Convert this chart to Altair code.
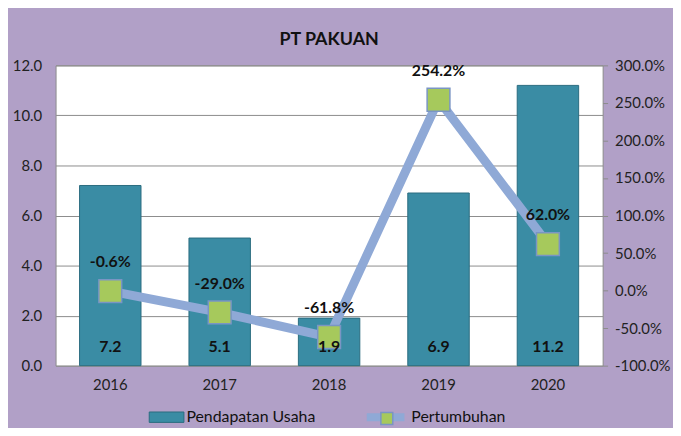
import altair as alt
import pandas as pd

years = ["2016", "2017", "2018", "2019", "2020"]
pendapatan = [7.2, 5.1, 1.9, 6.9, 11.2]
pertumbuhan = [-0.6, -29.0, -61.8, 254.2, 62.0]
left_ticks = [0, 2, 4, 6, 8, 10, 12]
right_ticks = [-100, -50, 0, 50, 100, 150, 200, 250, 300]

df = pd.DataFrame({
    "year": years,
    "pend": pendapatan,
    "growth": pertumbuhan,
    "k1": ["Pendapatan Usaha"] * len(years),
    "k2": ["Pertumbuhan"] * len(years),
    "k3": ["Pertumbuhan"] * len(years),
})

FONT = "Lato"
TEAL = "#3A8CA4"
TEAL_DARK = "#2A6C80"
LINE = "#8FA9D6"
GREEN = "#A6C95C"
BOX = "#7A95C4"
LEG_C = 355  # legend centre line, relative to the plot top
LINE_X = 310

x = alt.X("year:N", title=None, sort=years,
          scale=alt.Scale(paddingInner=0.43, paddingOuter=0.215),
          axis=alt.Axis(labelAngle=0, labelFontSize=15, labelPadding=12,
                        ticks=False, domain=False, labelColor="#222"))

base = alt.Chart(df)

yl = alt.Y("pend:Q", title=None,
           scale=alt.Scale(domain=[0, 12], nice=False),
           axis=alt.Axis(values=left_ticks, format=".1f", labelFontSize=15,
                         labelPadding=14, ticks=False, domain=False,
                         grid=True, gridColor="#8C8C8C", gridWidth=1,
                         labelColor="#222"))

bars = base.mark_bar(size=62, stroke=TEAL_DARK, strokeWidth=1).encode(
    x=x, y=yl,
    color=alt.Color("k1:N", title=None,
                    scale=alt.Scale(range=[TEAL]),
                    legend=alt.Legend(orient="none", legendX=94, legendY=LEG_C - 18,
                                      symbolType="M-1,-0.3H1V0.3H-1Z",
                                      symbolSize=1225, symbolStrokeColor=TEAL_DARK,
                                      symbolStrokeWidth=1, symbolOpacity=1,
                                      labelFontSize=16, labelOffset=2,
                                      labelColor="#111", padding=0)),
)

yr_scale = alt.Scale(domain=[-100, 300], nice=False)
yr_axis = alt.Axis(orient="right", values=right_ticks,
                   labelExpr="replace(format(datum.value, '.1f'), '\u2212', '-') + '%'",
                   labelFontSize=15, labelPadding=7, ticks=True,
                   tickSize=5, tickColor="#8C8C8C", domain=False,
                   grid=False, labelColor="#222", labelOverlap=False)
yr = alt.Y("growth:Q", title=None, scale=yr_scale, axis=yr_axis)

line = base.mark_line(strokeWidth=9).encode(
    x=x, y=yr,
    stroke=alt.Stroke("k2:N", title=None, scale=alt.Scale(range=[LINE]),
                      legend=alt.Legend(orient="none", legendX=LINE_X, legendY=LEG_C - 23,
                                        symbolType="stroke", symbolSize=1444,
                                        symbolStrokeWidth=8, labelFontSize=16,
                                        labelOffset=3, labelColor="#111",
                                        padding=0)),
)

points = base.mark_square(size=529, stroke=BOX, strokeWidth=1.5, opacity=1).encode(
    x=x, y=yr,
    fill=alt.Fill("k3:N", title=None, scale=alt.Scale(range=[GREEN]),
                  legend=alt.Legend(orient="none", legendX=LINE_X + 16.25,
                                    legendY=LEG_C - 6.75,
                                    symbolType="square", symbolSize=144,
                                    symbolStrokeColor=BOX, symbolStrokeWidth=1.5,
                                    symbolOpacity=1, labelExpr="''",
                                    labelFontSize=16, labelOffset=0,
                                    padding=0)),
)

pt_text = base.mark_text(fontSize=16, fontWeight="bold", font=FONT,
                         color="#111", dy=-29, baseline="middle").transform_calculate(
    lbl="replace(format(datum.growth, '.1f'), '\u2212', '-') + '%'"
).encode(x=x, y=yr, text="lbl:N")

# bar value labels sit at the bars' base (left 0 == right -100%), drawn on top
bar_text = base.mark_text(fontSize=16, fontWeight="bold", font=FONT,
                          color="#111", dy=-19, baseline="middle").encode(
    x=x, y=alt.YDatum(-100, scale=yr_scale, axis=yr_axis, title=None),
    text=alt.Text("pend:Q", format=".1f"))

right = alt.layer(line, points, pt_text, bar_text)

chart = alt.layer(bars, right).resolve_scale(
    y="independent", color="independent", stroke="independent", fill="independent"
).resolve_legend(color="independent", stroke="independent", fill="independent").properties(
    width=552, height=303,
    padding={"left": 48, "top": 56, "right": 71, "bottom": 61},
    autosize=alt.AutoSizeParams(type="none"),
    background="#B1A0C7",
    title=alt.TitleParams("PT PAKUAN", fontSize=18, fontWeight="bold", font=FONT,
                          color="#111", anchor="middle", offset=10),
).configure_view(
    fill="white", stroke="#8C8C8C", strokeWidth=1
).configure_axis(
    labelFont=FONT
).configure_legend(
    labelFont=FONT
)

chart.save("out.html", embed_options={"renderer": "svg", "actions": False})
